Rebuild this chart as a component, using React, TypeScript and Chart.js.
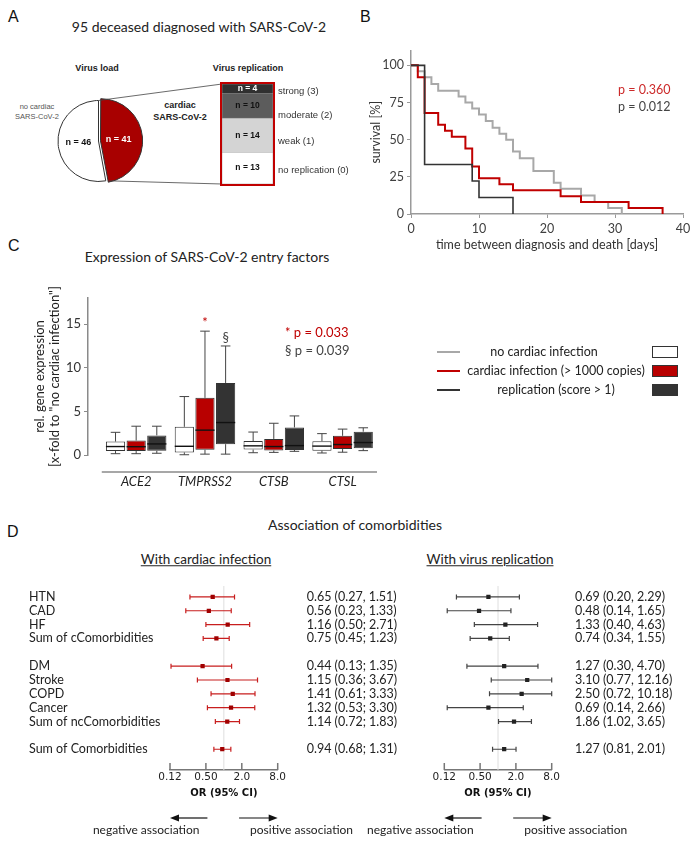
import React, { useEffect, useRef } from 'react';
import { Chart, registerables } from 'chart.js';
Chart.register(...registerables);

const FONT = 'Lato, "Open Sans", sans-serif';
const ARIAL = '"Liberation Sans", Arial, sans-serif';
const DEJAVU = '"DejaVu Sans", Verdana, sans-serif';
Chart.defaults.font.family = FONT;

// ---------- Panel A ----------
const loadLabels = ['cardiac SARS-CoV-2', 'no cardiac SARS-CoV-2'];
const loadCounts = [41, 46];
const loadColors = ['#a80000', '#ffffff'];
const loadTextColors = ['#ffffff', '#111111'];

const replLabels = ['no replication (0)', 'weak (1)', 'moderate (2)', 'strong (3)'];
const replCounts = [13, 14, 10, 4];
const replColors = ['#ffffff', '#d4d4d4', '#5c5c5c', '#303030'];
const replTextColors = ['#111111', '#111111', '#111111', '#ffffff'];
const replLabelY = [170, 141, 115, 91];

// ---------- Panel B ----------
const kmNoTime = [0, 1, 2, 3, 4, 7, 8, 9, 10, 11, 12, 13, 14, 15, 16, 18, 21, 22, 25, 27, 29, 31];
const kmNoSurv = [100, 96, 92, 87.5, 83, 79, 75, 71, 67, 62.5, 58, 54, 50, 42, 37.5, 29, 21, 17, 12.5, 8, 4, 0];
const kmCardTime = [0, 1, 2, 4, 5, 6, 8, 9, 10, 13, 15, 22, 25, 32, 37];
const kmCardSurv = [100, 92, 68, 60, 56, 52, 44, 32, 24, 20, 16, 12, 8, 4, 0];
const kmRepTime = [0, 2, 9, 10, 15];
const kmRepSurv = [100, 33.3, 22.2, 11.1, 0];
const kmXTicks = [0, 10, 20, 30, 40];
const kmYTicks = [0, 25, 50, 75, 100];

// ---------- Panel C ----------
const genes = ['ACE2', 'TMPRSS2', 'CTSB', 'CTSL'];
const noMin = [0.15, 0.03, 0.26, 0.23];
const noQ1 = [0.45, 0.3, 0.62, 0.5];
const noMed = [0.97, 1.0, 1.05, 1.02];
const noQ3 = [1.54, 3.23, 1.6, 1.58];
const noMax = [2.6, 6.7, 2.63, 2.45];
const cardMin = [0.15, 0.1, 0.3, 0.32];
const cardQ1 = [0.45, 0.6, 0.52, 0.7];
const cardMed = [0.95, 2.85, 0.97, 1.2];
const cardQ3 = [1.66, 6.55, 1.84, 2.2];
const cardMax = [3.3, 14.2, 3.64, 2.97];
const repMin = [0.2, 0.1, 0.42, 0.5];
const repQ1 = [0.48, 1.24, 0.58, 0.76];
const repMed = [1.27, 3.72, 1.08, 1.43];
const repQ3 = [2.25, 8.26, 3.16, 2.67];
const repMax = [3.3, 12.5, 4.48, 3.12];
const sigCard = ['', '*', '', ''];
const sigRep = ['', '§', '', ''];

// ---------- Panel D ----------
const rowLabels = ['HTN', 'CAD', 'HF', 'Sum of cComorbidities', ' ', 'DM', 'Stroke', 'COPD', 'Cancer', 'Sum of ncComorbidities', '  ', 'Sum of Comorbidities', '   '];
const comorb = ['HTN', 'CAD', 'HF', 'Sum of cComorbidities', 'DM', 'Stroke', 'COPD', 'Cancer', 'Sum of ncComorbidities', 'Sum of Comorbidities'];
const cardOR = [0.65, 0.56, 1.16, 0.75, 0.44, 1.15, 1.41, 1.32, 1.14, 0.94];
const cardLo = [0.27, 0.23, 0.50, 0.45, 0.13, 0.36, 0.61, 0.53, 0.72, 0.68];
const cardHi = [1.51, 1.33, 2.71, 1.23, 1.35, 3.67, 3.33, 3.30, 1.83, 1.31];
const cardSep = [',', ',', ';', ';', ';', ';', ';', ';', ';', ';'];
const repOR = [0.69, 0.48, 1.33, 0.74, 1.27, 3.10, 2.50, 0.69, 1.86, 1.27];
const repLo = [0.20, 0.14, 0.40, 0.34, 0.30, 0.77, 0.72, 0.14, 1.02, 0.81];
const repHi = [2.29, 1.65, 4.63, 1.55, 4.70, 12.16, 10.18, 2.66, 3.65, 2.01];
const repSep = [',', ',', ',', ',', ',', ',', ',', ',', ',', ','];
const orTicks = [0.125, 0.5, 2, 8];
const orTickLabels = ['0.12', '0.50', '2.0', '8.0'];
const arrowNeg = [0.53, 0.125];
const arrowPos = [1.8, 8];

// ---------- layout ----------
const PIE = { x: 0, y: 40, w: 360, h: 160 };
const BAR = { left: 222, top: 84, width: 51, height: 100 };

function ChartBox({ x, y, w, h, make }: { x: number; y: number; w: number; h: number; make: () => any }) {
  const ref = useRef<HTMLCanvasElement>(null);
  useEffect(() => {
    const chart = new Chart(ref.current as HTMLCanvasElement, make());
    return () => chart.destroy();
  }, []);
  return (
    <div style={{ position: 'absolute', left: x, top: y, width: w, height: h }}>
      <canvas ref={ref} width={w} height={h} style={{ width: w, height: h, display: 'block' }} />
    </div>
  );
}

function Txt(props: any) {
  const { x, y, children, size = 12, family = FONT, weight = 400, color = '#222', align = 'center', style = {} } = props;
  const tx = align === 'center' ? '-50%' : align === 'right' ? '-100%' : '0';
  return (
    <div style={{ position: 'absolute', left: x, top: y, transform: `translate(${tx},-50%)`, fontSize: size, fontFamily: family, fontWeight: weight, color, whiteSpace: 'nowrap', lineHeight: 1, ...style }}>
      {children}
    </div>
  );
}

const base = { animation: false, responsive: false, devicePixelRatio: 1, events: [] as any[] };
const noPlugins = { legend: { display: false }, tooltip: { enabled: false } };

// ----- Pie -----
function makePie() {
  const piePlugin = {
    id: 'pieExtras',
    afterDatasetsDraw(chart: any) {
      const { ctx } = chart;
      const meta = chart.getDatasetMeta(0);
      ctx.save();
      meta.data.forEach((arc: any, i: number) => {
        const p = arc.getProps(['x', 'y', 'startAngle', 'endAngle', 'outerRadius'], true);
        const mid = (p.startAngle + p.endAngle) / 2;
        const r = p.outerRadius * 0.5;
        ctx.fillStyle = loadTextColors[i];
        ctx.font = `bold 9px ${ARIAL}`;
        ctx.textAlign = 'center';
        ctx.textBaseline = 'middle';
        ctx.fillText(`n = ${loadCounts[i]}`, p.x + Math.cos(mid) * r, p.y + Math.sin(mid) * r);
      });
      const red = meta.data[0].getProps(['x', 'y', 'startAngle', 'endAngle', 'outerRadius'], true);
      const bx = BAR.left - PIE.x;
      const by1 = BAR.top - PIE.y;
      const by2 = BAR.top + BAR.height - PIE.y;
      ctx.strokeStyle = '#444';
      ctx.lineWidth = 0.8;
      ctx.beginPath();
      ctx.moveTo(red.x + Math.cos(red.startAngle) * red.outerRadius, red.y + Math.sin(red.startAngle) * red.outerRadius);
      ctx.lineTo(bx, by1);
      ctx.moveTo(red.x + Math.cos(red.endAngle) * red.outerRadius + 3, red.y + Math.sin(red.endAngle) * red.outerRadius);
      ctx.lineTo(bx, by2);
      ctx.stroke();
      ctx.restore();
    },
  };
  return {
    type: 'pie',
    data: {
      labels: loadLabels,
      datasets: [{ data: loadCounts, backgroundColor: loadColors, borderColor: '#333', borderWidth: 1, offset: [8, 0] }],
    },
    options: { ...base, layout: { padding: { left: 53, top: 56, right: 216, bottom: 14 } }, plugins: noPlugins },
    plugins: [piePlugin],
  };
}

// ----- stacked bar of replication -----
function makeRepBar() {
  const total = replCounts.reduce((a, b) => a + b, 0);
  const barPlugin = {
    id: 'barExtras',
    afterDatasetsDraw(chart: any) {
      const { ctx, chartArea } = chart;
      ctx.save();
      chart.data.datasets.forEach((ds: any, i: number) => {
        const el = chart.getDatasetMeta(i).data[0];
        const p = el.getProps(['x', 'y', 'base'], true);
        ctx.fillStyle = replTextColors[i];
        ctx.font = `bold 8.5px ${ARIAL}`;
        ctx.textAlign = 'center';
        ctx.textBaseline = 'middle';
        ctx.fillText(`n = ${replCounts[i]}`, p.x, (p.y + p.base) / 2);
      });
      ctx.strokeStyle = '#c00000';
      ctx.lineWidth = 2;
      ctx.strokeRect(chartArea.left - 1, chartArea.top - 1, chartArea.width + 2, chartArea.height + 2);
      ctx.restore();
    },
  };
  return {
    type: 'bar',
    data: {
      labels: ['cardiac'],
      datasets: replLabels.map((l, i) => ({
        label: l,
        data: [replCounts[i]],
        backgroundColor: replColors[i],
        borderColor: '#9a9a9a',
        borderWidth: 0.6,
        borderSkipped: false,
        barPercentage: 1,
        categoryPercentage: 1,
      })),
    },
    options: {
      ...base,
      layout: { padding: 2 },
      plugins: noPlugins,
      scales: {
        x: { stacked: true, display: false },
        y: { stacked: true, display: false, min: 0, max: total },
      },
    },
    plugins: [barPlugin],
  };
}

// ----- Kaplan-Meier -----
function makeKM() {
  const sets = [
    { label: 'replication (score > 1)', t: kmRepTime, s: kmRepSurv, color: '#333333', w: 1.6 },
    { label: 'cardiac infection (> 1000 copies)', t: kmCardTime, s: kmCardSurv, color: '#c00000', w: 2 },
    { label: 'no cardiac infection', t: kmNoTime, s: kmNoSurv, color: '#a8a8a8', w: 2 },
  ];
  const axisCol = '#9a9a9a';
  return {
    type: 'line',
    data: {
      datasets: sets.map((d) => ({
        label: d.label,
        data: d.t.map((t, i) => ({ x: t, y: d.s[i] })),
        borderColor: d.color,
        borderWidth: d.w,
        stepped: true,
        pointRadius: 0,
        fill: false,
      })),
    },
    options: {
      ...base,
      layout: { padding: { left: 0, top: 10, right: 17, bottom: 0 } },
      plugins: noPlugins,
      scales: {
        x: {
          type: 'linear', min: 0, max: 40,
          afterBuildTicks: (s: any) => { s.ticks = kmXTicks.map((v) => ({ value: v })); },
          afterFit: (s: any) => { s.height = 48; },
          grid: { display: true, drawOnChartArea: false, drawTicks: true, tickLength: 4, color: axisCol },
          border: { color: axisCol, width: 1.5 },
          ticks: { font: { size: 12.5 }, color: '#404040', padding: 3, maxRotation: 0 },
          title: { display: true, text: 'time between diagnosis and death [days]', font: { size: 12.5 }, color: '#333', padding: { top: 0, bottom: 10 } },
        },
        y: {
          min: 0, max: 110,
          afterBuildTicks: (s: any) => { s.ticks = kmYTicks.map((v) => ({ value: v })); },
          afterFit: (s: any) => { s.width = 51; },
          grid: { display: true, drawOnChartArea: false, drawTicks: true, tickLength: 4, color: axisCol },
          border: { color: axisCol, width: 1.5 },
          ticks: { font: { size: 12.5 }, color: '#404040', padding: 3 },
          title: { display: true, text: 'survival [%]', font: { size: 12.5 }, color: '#333', padding: { top: 8, bottom: 0 } },
        },
      },
    },
  };
}

// ----- Box plot -----
function makeBox() {
  const groups = [
    { label: 'no cardiac infection', min: noMin, q1: noQ1, med: noMed, q3: noQ3, max: noMax, fill: '#ffffff', sig: ['', '', '', ''], sigColor: '#333' },
    { label: 'cardiac infection (> 1000 copies)', min: cardMin, q1: cardQ1, med: cardMed, q3: cardQ3, max: cardMax, fill: '#b80000', sig: sigCard, sigColor: '#c00000' },
    { label: 'replication (score > 1)', min: repMin, q1: repQ1, med: repMed, q3: repQ3, max: repMax, fill: '#333333', sig: sigRep, sigColor: '#444' },
  ];
  const boxPlugin = {
    id: 'boxExtras',
    afterDatasetsDraw(chart: any) {
      const { ctx, chartArea, scales } = chart;
      const ys = scales.y;
      const xs = scales.x;
      ctx.save();
      groups.forEach((g, di) => {
        chart.getDatasetMeta(di).data.forEach((el: any, j: number) => {
          const { x, width } = el.getProps(['x', 'width'], true);
          const cap = width * 0.25;
          ctx.strokeStyle = '#444';
          ctx.lineWidth = 1;
          ctx.beginPath();
          ctx.moveTo(x, ys.getPixelForValue(g.q3[j]));
          ctx.lineTo(x, ys.getPixelForValue(g.max[j]));
          ctx.moveTo(x - cap, ys.getPixelForValue(g.max[j]));
          ctx.lineTo(x + cap, ys.getPixelForValue(g.max[j]));
          ctx.moveTo(x, ys.getPixelForValue(g.q1[j]));
          ctx.lineTo(x, ys.getPixelForValue(g.min[j]));
          ctx.moveTo(x - cap, ys.getPixelForValue(g.min[j]));
          ctx.lineTo(x + cap, ys.getPixelForValue(g.min[j]));
          ctx.stroke();
          ctx.strokeStyle = '#111';
          ctx.lineWidth = 1.4;
          ctx.beginPath();
          ctx.moveTo(x - width / 2, ys.getPixelForValue(g.med[j]));
          ctx.lineTo(x + width / 2, ys.getPixelForValue(g.med[j]));
          ctx.stroke();
          if (g.sig[j]) {
            ctx.fillStyle = g.sigColor;
            ctx.font = `13px ${FONT}`;
            ctx.textAlign = 'center';
            ctx.textBaseline = 'middle';
            ctx.fillText(g.sig[j], x, ys.getPixelForValue(g.max[j]) - 8);
          }
        });
      });
      ctx.strokeStyle = '#8a8a8a';
      ctx.lineWidth = 1.5;
      ctx.beginPath();
      const ay = chartArea.bottom + 17;
      ctx.moveTo(xs.getPixelForValue(-0.5), ay);
      ctx.lineTo(xs.getPixelForValue(genes.length - 0.5), ay);
      ctx.stroke();
      ctx.restore();
    },
  };
  return {
    type: 'bar',
    data: {
      datasets: groups.map((g) => ({
        label: g.label,
        data: genes.map((_, j) => ({ x: j, y: [g.q1[j], g.q3[j]] })),
        backgroundColor: g.fill,
        borderColor: '#333',
        borderWidth: 1,
        borderSkipped: false,
        categoryPercentage: 0.9,
        barPercentage: 0.93,
      })),
    },
    options: {
      ...base,
      layout: { padding: { left: 0, top: 28, right: 3, bottom: 0 } },
      plugins: noPlugins,
      scales: {
        x: {
          type: 'linear', min: -0.7, max: genes.length - 0.5, offset: false,
          afterBuildTicks: (s: any) => { s.ticks = genes.map((_, j) => ({ value: j })); },
          afterFit: (s: any) => { s.height = 40; },
          grid: { display: false, drawTicks: false },
          border: { display: false },
          ticks: { callback: (_v: any, i: number) => genes[i], font: { size: 13, style: 'italic' }, color: '#222', padding: 19, maxRotation: 0, autoSkip: false },
        },
        y: {
          min: 0, max: 18,
          afterBuildTicks: (s: any) => { s.ticks = [0, 5, 10, 15].map((v) => ({ value: v })); },
          afterFit: (s: any) => { s.width = 88; },
          grid: { display: true, drawOnChartArea: false, drawTicks: true, tickLength: 4, color: '#8a8a8a' },
          border: { color: '#8a8a8a', width: 1.5 },
          ticks: { font: { size: 13 }, color: '#333', padding: 3 },
          title: { display: true, text: ['rel. gene expression', '[x-fold to "no cardiac infection"]'], font: { size: 13, lineHeight: 1.15 }, color: '#222', padding: { top: 32, bottom: 0 } },
        },
      },
    },
    plugins: [boxPlugin],
  };
}

// ----- forest plots -----
function makeForest(cfg: any) {
  const forestPlugin = {
    id: 'forestExtras',
    beforeDatasetsDraw(chart: any) {
      const { ctx, chartArea, scales } = chart;
      const xs = scales.x;
      const ys = scales.y;
      ctx.save();
      const x1 = xs.getPixelForValue(1);
      ctx.strokeStyle = '#dedede';
      ctx.lineWidth = 1;
      ctx.beginPath();
      ctx.moveTo(x1, chartArea.top - 4);
      ctx.lineTo(x1, chartArea.bottom);
      ctx.stroke();
      ctx.strokeStyle = cfg.lineColor;
      ctx.lineWidth = 1.2;
      comorb.forEach((c, i) => {
        const py = ys.getPixelForValue(rowLabels.indexOf(c));
        const a = xs.getPixelForValue(Math.max(cfg.lo[i], xs.min));
        const b = xs.getPixelForValue(Math.min(cfg.hi[i], xs.max));
        ctx.beginPath();
        ctx.moveTo(a, py);
        ctx.lineTo(b, py);
        ctx.moveTo(a, py - 2.5);
        ctx.lineTo(a, py + 2.5);
        ctx.moveTo(b, py - 2.5);
        ctx.lineTo(b, py + 2.5);
        ctx.stroke();
      });
      ctx.restore();
    },
    afterDraw(chart: any) {
      const { ctx, chartArea, scales } = chart;
      const xs = scales.x;
      const ys = scales.y;
      ctx.save();
      ctx.strokeStyle = '#777';
      ctx.lineWidth = 1.5;
      ctx.beginPath();
      orTicks.forEach((v) => {
        const px = xs.getPixelForValue(v);
        ctx.moveTo(px, chartArea.bottom);
        ctx.lineTo(px, chartArea.bottom - 7);
      });
      ctx.stroke();
      ctx.fillStyle = '#222';
      ctx.font = `12.5px ${FONT}`;
      ctx.textAlign = 'left';
      ctx.textBaseline = 'middle';
      comorb.forEach((c, i) => {
        const py = ys.getPixelForValue(rowLabels.indexOf(c));
        const txt = `${cfg.or[i].toFixed(2)} (${cfg.lo[i].toFixed(2)}${cfg.sep[i]} ${cfg.hi[i].toFixed(2)})`;
        ctx.fillText(txt, chartArea.right + cfg.valueOffset, py);
      });
      const ay = chartArea.bottom + 48;
      const drawArrow = (from: number, to: number) => {
        const fx = xs.getPixelForValue(from);
        const tx = xs.getPixelForValue(to);
        const dir = Math.sign(tx - fx);
        ctx.strokeStyle = '#111';
        ctx.lineWidth = 1.2;
        ctx.beginPath();
        ctx.moveTo(fx, ay);
        ctx.lineTo(tx - dir * 6, ay);
        ctx.stroke();
        ctx.fillStyle = '#111';
        ctx.beginPath();
        ctx.moveTo(tx, ay);
        ctx.lineTo(tx - dir * 9, ay - 3.5);
        ctx.lineTo(tx - dir * 9, ay + 3.5);
        ctx.closePath();
        ctx.fill();
      };
      drawArrow(arrowNeg[0], arrowNeg[1]);
      drawArrow(arrowPos[0], arrowPos[1]);
      ctx.fillStyle = '#222';
      ctx.font = `12px ${FONT}`;
      ctx.textBaseline = 'middle';
      ctx.textAlign = 'right';
      ctx.fillText('negative association', xs.getPixelForValue(arrowNeg[0]) - 8, ay + 12);
      ctx.textAlign = 'left';
      ctx.fillText('positive association', xs.getPixelForValue(arrowPos[0]) + 11, ay + 12);
      ctx.restore();
    },
  };
  return {
    type: 'scatter',
    data: {
      datasets: [{
        label: cfg.label,
        data: cfg.or.map((v: number, i: number) => ({ x: v, y: comorb[i] })),
        pointStyle: 'rect',
        pointRadius: 3,
        backgroundColor: cfg.pointColor,
        borderColor: cfg.pointColor,
        borderWidth: 0,
      }],
    },
    options: {
      ...base,
      layout: { padding: { left: cfg.padLeft, right: cfg.padRight, top: 10, bottom: 0 } },
      plugins: noPlugins,
      scales: {
        x: {
          type: 'logarithmic', min: orTicks[0], max: orTicks[orTicks.length - 1],
          afterBuildTicks: (s: any) => { s.ticks = orTicks.map((v) => ({ value: v })); },
          afterFit: (s: any) => { s.height = 74; },
          grid: { display: false, drawTicks: false },
          border: { display: true, color: '#777', width: 1.5 },
          ticks: { callback: (_v: any, i: number) => orTickLabels[i], font: { family: DEJAVU, size: 10.5 }, color: '#222', padding: 1, maxRotation: 0, autoSkip: false },
          title: { display: true, text: 'OR (95% CI)', font: { family: DEJAVU, size: 10, weight: 'bold' }, color: '#111', padding: { top: 0, bottom: 45 } },
        },
        y: {
          type: 'category', labels: rowLabels, offset: true, display: cfg.showLabels,
          afterFit: (s: any) => { s.width = cfg.yWidth; },
          grid: { display: false, drawTicks: false },
          border: { display: false },
          ticks: { crossAlign: 'far', font: { size: 12.5 }, color: '#222', padding: 0, autoSkip: false },
        },
      },
    },
    plugins: [forestPlugin],
  };
}

const legendItems = ['no cardiac infection', 'cardiac infection (> 1000 copies)', 'replication (score > 1)'];
const legendLine = ['#a8a8a8', '#c00000', '#333333'];
const legendFill = ['#ffffff', '#b80000', '#333333'];
const legendTextX = [544, 556, 556];

export default function App() {
  return (
    <div style={{ position: 'absolute', left: 0, top: 0, width: 700, height: 844, background: '#fff', overflow: 'hidden', fontFamily: FONT }}>
      <Txt x={8} y={17} size={16} family={ARIAL} align="left" color="#111">A</Txt>
      <Txt x={360} y={17} size={16} family={ARIAL} align="left" color="#111">B</Txt>
      <Txt x={8} y={246} size={16} family={ARIAL} align="left" color="#111">C</Txt>
      <Txt x={7} y={532} size={16} family={ARIAL} align="left" color="#111">D</Txt>

      {/* Panel A */}
      <Txt x={199} y={27} size={14}>95 deceased diagnosed with SARS-CoV-2</Txt>
      <Txt x={97} y={68} size={9} family={ARIAL} weight={700}>Virus load</Txt>
      <Txt x={248} y={68} size={9} family={ARIAL} weight={700}>Virus replication</Txt>
      <Txt x={37} y={107} size={7.5} family={ARIAL} color="#555">no cardiac</Txt>
      <Txt x={37} y={117} size={7.5} family={ARIAL} color="#555">SARS-CoV-2</Txt>
      <Txt x={180} y={105} size={9} family={ARIAL} weight={700}>cardiac</Txt>
      <Txt x={180} y={117} size={9} family={ARIAL} weight={700}>SARS-CoV-2</Txt>
      <ChartBox x={PIE.x} y={PIE.y} w={PIE.w} h={PIE.h} make={makePie} />
      <ChartBox x={BAR.left - 2} y={BAR.top - 2} w={BAR.width + 4} h={BAR.height + 4} make={makeRepBar} />
      {replLabels.map((l, i) => (
        <Txt key={l} x={278} y={replLabelY[i]} size={9.5} family={ARIAL} align="left" color="#333">{l}</Txt>
      ))}

      {/* Panel B */}
      <ChartBox x={360} y={40} w={340} h={222} make={makeKM} />
      <Txt x={618} y={90} size={12.5} align="left" color="#cc2a2a">p = 0.360</Txt>
      <Txt x={618} y={107} size={12.5} align="left" color="#444">p = 0.012</Txt>

      {/* Panel C */}
      <Txt x={207} y={257} size={14}>Expression of SARS-CoV-2 entry factors</Txt>
      <ChartBox x={0} y={270} w={380} h={225} make={makeBox} />
      <Txt x={285} y={332} size={13} align="left" color="#c00000">* p = 0.033</Txt>
      <Txt x={285} y={350} size={13} align="left" color="#444">§ p = 0.039</Txt>
      {legendItems.map((l, i) => (
        <React.Fragment key={l}>
          <div style={{ position: 'absolute', left: 437, top: 352 + i * 19 - 1, width: 23, height: 2, background: legendLine[i] }} />
          <Txt x={legendTextX[i]} y={352 + i * 19} size={12.5}>{l}</Txt>
          <div style={{ position: 'absolute', left: 652, top: 352 + i * 19 - 6, width: 24, height: 10, background: legendFill[i], border: '1px solid #333' }} />
        </React.Fragment>
      ))}

      {/* Panel D */}
      <Txt x={355} y={525} size={14}>Association of comorbidities</Txt>
      <Txt x={206} y={560} size={13.5} style={{ textDecoration: 'underline' }}>With cardiac infection</Txt>
      <Txt x={490} y={560} size={13.5} style={{ textDecoration: 'underline' }}>With virus replication</Txt>
      <ChartBox x={350} y={580} w={350} h={264} make={() => makeForest({ label: 'With virus replication', or: repOR, lo: repLo, hi: repHi, sep: repSep, lineColor: '#444', pointColor: '#222', showLabels: false, padLeft: 94.3, yWidth: 0, padRight: 148.3, valueOffset: 23.3 })} />
      <ChartBox x={20} y={580} w={390} h={264} make={() => makeForest({ label: 'With cardiac infection', or: cardOR, lo: cardLo, hi: cardHi, sep: cardSep, lineColor: '#c81e1e', pointColor: '#a00000', showLabels: true, padLeft: 9, yWidth: 141, padRight: 132.3, valueOffset: 29 })} />
    </div>
  );
}
